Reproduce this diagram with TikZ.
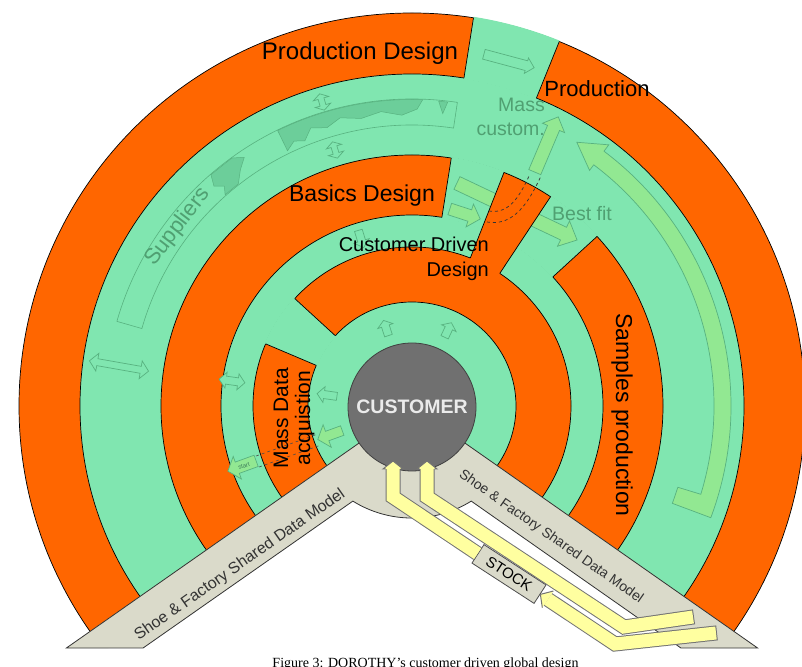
\documentclass[tikz,border=0pt]{standalone}
\usepackage{fontspec}
\setmainfont{Liberation Serif}
\setsansfont{Liberation Sans}
\usetikzlibrary{calc}
\definecolor{ring}{RGB}{255,102,0}
\definecolor{mint}{RGB}{128,230,176}
\definecolor{mintdark}{RGB}{88,178,128}
\definecolor{mintland}{RGB}{108,206,154}
\definecolor{leaf}{RGB}{146,232,146}
\definecolor{band}{RGB}{218,218,202}
\definecolor{lemon}{RGB}{255,255,160}
\definecolor{greentext}{RGB}{80,160,114}
\colorlet{custgrey}{black!56}
\tikzstyle{edge}=[black,line width=.7]
\tikzstyle{hollow}=[draw=mintdark,fill=mint,line width=.7]
\tikzstyle{leafy}=[draw=mintdark,fill=leaf,line width=.7]
\tikzstyle{lab}=[inner sep=0,font=\sffamily]
\tikzstyle{yellowline}=[line width=13,lemon]
\tikzstyle{yellowedge}=[line width=15,black!55]
\def\sector#1#2#3#4#5{% style, from, to, inner, outer
  \fill[#1] ($(O)+(#2:#5)$) arc (#2:#3:#5) -- ($(O)+(#3:#4)$) arc (#3:#2:#4) -- cycle;
}
\def\onearrow#1#2#3#4#5#6#7{% style, centre, angle, length, shaft, head, head length
  \draw[#1,shift={(#2)},rotate=#3]
    ({-#4/2},{-#5}) -- ({#4/2-#7},{-#5}) -- ({#4/2-#7},{-#6}) -- ({#4/2},0) --
    ({#4/2-#7},{#6}) -- ({#4/2-#7},{#5}) -- ({-#4/2},{#5}) -- cycle;
}
\def\twoarrow#1#2#3#4#5#6#7{%
  \draw[#1,shift={(#2)},rotate=#3]
    ({-#4/2},0) -- ({-#4/2+#7},{-#6}) -- ({-#4/2+#7},{-#5}) -- ({#4/2-#7},{-#5}) --
    ({#4/2-#7},{-#6}) -- ({#4/2},0) -- ({#4/2-#7},{#6}) -- ({#4/2-#7},{#5}) --
    ({-#4/2+#7},{#5}) -- ({-#4/2+#7},{#6}) -- cycle;
}
\begin{document}
\begin{tikzpicture}[x=1pt,y=1pt]
  \useasboundingbox (0,0) rectangle (802,666);
  \coordinate (O) at (412,260);

  \begin{scope}
    \clip (O) -- ($(O)+(215:470)$) -- (-20,700) -- (830,700) -- ($(O)+(-35:470)$) -- cycle;
    % RINGS
    \fill[ring] (O) circle (393);
    \fill[mint] (O) circle (332);
    \fill[ring] (O) circle (251);
    \fill[mint] (O) circle (191);
    \fill[ring] (O) circle (159);
    \fill[mint] (O) circle (104);
    \foreach \r in {393,332,251,191,159,104}
      \draw[edge] (O) circle (\r);
    % GAPS
    \sector{mint}{68}{81}{331}{394}
    \sector{mint}{42.5}{81}{190}{252}
    \sector{mint}{137.5}{157}{103}{160}
    \foreach \a/\ri/\ro in {68/332/393,81/332/393,42.5/191/251,81/191/251,137.5/104/159,157/104/159}
      \draw[edge] ($(O)+(\a:\ri)$) -- ($(O)+(\a:\ro)$);

    % SUPPLIERS
    \draw[mintdark,fill=mintland,line width=.5] ($(O)+(88:306.5)$) arc (88:116:306.5)
      -- ($(O)+(116:284)$) -- ($(O)+(114:290)$) -- ($(O)+(112:286)$) -- ($(O)+(110:296)$)
      -- ($(O)+(107:291)$) -- ($(O)+(104:297)$) -- ($(O)+(100:292)$) -- ($(O)+(96:296)$)
      -- ($(O)+(92:291)$) -- ($(O)+(89:297)$) -- cycle;
    \draw[mintdark,fill=mintland,line width=.5] ($(O)+(124:300)$) -- ($(O)+(126:306.5)$)
      -- ($(O)+(131:306.5)$) -- ($(O)+(132:296)$) -- ($(O)+(130.5:289)$) -- ($(O)+(131.5:282)$)
      -- ($(O)+(128:282)$) -- ($(O)+(126:292)$) -- cycle;
    \draw[mintdark,fill=mintland,line width=.5] ($(O)+(85:306)$) -- ($(O)+(84:294)$) -- ($(O)+(83.3:306)$) -- cycle;
    \draw[mintdark,line width=.6] ($(O)+(81.5:307)$) arc (81.5:164:307) -- ($(O)+(164:281)$) arc (164:81.5:281) -- cycle;

    % HOLLOW ARROWS
    \twoarrow{hollow}{322,564}{106}{17}{3}{8}{5}
    \twoarrow{hollow}{335,516}{107}{17}{3}{8}{5}
    \onearrow{hollow}{361,427}{287}{18}{4}{8}{7}
    \onearrow{hollow}{386,338}{108}{16}{4}{8}{6}
    \onearrow{hollow}{448,336}{65}{16}{4}{8}{6}
    \twoarrow{hollow}{119,300}{-10}{60}{3.5}{9}{8}
    \twoarrow{hollow}{232,285}{-8}{26}{4}{8}{7}
    \onearrow{hollow}{327,271}{172}{20}{4}{8}{7}
    \onearrow{hollow}{509,605}{-15}{52}{5}{8}{8}

    % FLOWS
    \onearrow{leafy}{330,231}{200}{26}{5}{12}{10}
    \onearrow{leafy}{242,200}{200}{30}{6}{12}{10}
    \draw[dashed,black!70,line width=.6] (256,210) -- (318,232) (259,199) -- (321,221);
    \onearrow{leafy}{517,454.5}{-25.4}{133}{7}{14}{15}
    \onearrow{leafy}{465,452}{-18}{32}{6}{12}{11}
    \draw[leafy] ($(O)+(-20.5:278)$) -- ($(O)+(-20.5:319)$) arc (-20.5:53:319)
      -- ($(O)+(53:327)$) -- ($(O)+(58:311)$) -- ($(O)+(53:295)$) -- ($(O)+(53:302)$)
      arc (53:-17:302) -- ($(O)+(-17:278)$) -- cycle;

    % ARM
    \sector{ring}{56.5}{68.5}{155}{251}
    \draw[edge] ($(O)+(56.5:159)$) -- ($(O)+(56.5:251)$) arc (56.5:68.5:251) -- ($(O)+(68.5:159)$);
    \draw[dashed,black!80,line width=.7] (489,455) to[out=-10,in=-115] (530,492);
    \draw[dashed,black!80,line width=.7] (487,444) to[out=-10,in=-115] (541,490);
    \onearrow{leafy}{546.5,521.5}{67}{60}{6.5}{12}{12}
  \end{scope}

  % SHARED DATA MODEL
  \draw[black!80,fill=band,line width=.8] (O) -- ($(O)+(215:422)$) -- ($(O)+(305:44)+(215:359)$)
    -- ($(O)+(305:44)+(215:103)$) arc (238.1:301.9:112) -- ($(O)+(235:44)+(-35:359)$)
    -- ($(O)+(-35:422)$) -- cycle;

  % CUSTOMER
  \node[circle,fill=custgrey,draw=black!75,line width=.8,minimum size=128,inner sep=0,
    text=black!8,font=\sffamily\bfseries\fontsize{19.5}{19.5}\selectfont] (cust) at (412,259) {CUSTOMER};

  % LABELS
  \node[lab,anchor=base,font=\sffamily\fontsize{24}{24}\selectfont] (pd) at (360,606) {Production Design};
  \node[lab,anchor=base,font=\sffamily\fontsize{22}{22}\selectfont] (pr) at (597,569) {Production};
  \node[lab,anchor=base,font=\sffamily\fontsize{23}{23}\selectfont] (bd) at (362,464) {Basics Design};
  \node[lab,anchor=base east,align=right,font=\sffamily\fontsize{20}{25}\selectfont] (cd) at (489,389) {Customer Driven\\Design};
  \node[lab,rotate=90,align=center,font=\sffamily\fontsize{21}{22}\selectfont] (md) at (294,248) {Mass Data\\acquistion};
  \node[lab,rotate=-90,font=\sffamily\fontsize{23}{23}\selectfont] (sp) at (622,251) {Samples production};
  \node[lab,rotate=52.5,text=greentext,font=\sffamily\fontsize{22}{22}\selectfont] (sup) at (178,439) {Suppliers};
  \node[lab,anchor=base east,align=right,text=greentext,font=\sffamily\fontsize{19.5}{24}\selectfont] (mc) at (545,530) {Mass\\custom.};
  \node[lab,anchor=base,text=greentext,font=\sffamily\fontsize{19.5}{19.5}\selectfont] (bf) at (582,445) {Best fit};
  \node[lab,rotate=20,text=mintdark!70!black,font=\sffamily\fontsize{6}{6}\selectfont] (st) at (244,200) {start};
  \node[lab,rotate=35,text=black!80,font=\sffamily\fontsize{16}{16}\selectfont] (sfl) at (240,101) {Shoe \& Factory Shared Data Model};
  \node[lab,rotate=-35,text=black!80,font=\sffamily\fontsize{14}{14}\selectfont] (sfr) at (551,129) {Shoe \& Factory Shared Data Model};

  % STOCK
  \node[draw=black!70,fill=band,line width=.8,rotate=-33,minimum width=74,minimum height=22,inner sep=0,
    font=\sffamily\fontsize{15}{15}\selectfont] (stock) at (509,92) {STOCK};
  \coordinate (Y1a) at (393,197);
  \coordinate (Y1b) at (393,169);
  \coordinate (Y1c) at (615,22);
  \coordinate (Y1d) at (716,33);
  \coordinate (Y2a) at (427,197);
  \coordinate (Y2b) at (427,169);
  \coordinate (Y2c) at (624,39);
  \coordinate (Y2d) at (693,49);
  \coordinate (Y1h) at ($(stock.east)!9pt!(Y1c)$);
  \draw[yellowedge,shorten >=-1] (Y2a) -- (Y2b) -- (Y2c) -- (Y2d);
  \draw[yellowline] (Y2a) -- (Y2b) -- (Y2c) -- (Y2d);
  \draw[yellowedge] (stock.west) -- (Y1b) -- (Y1a);
  \draw[yellowline] (stock.west) -- (Y1b) -- (Y1a);
  \draw[yellowedge,shorten >=-1] (Y1h) -- (Y1c) -- (Y1d);
  \draw[yellowline] (Y1h) -- (Y1c) -- (Y1d);
  \foreach \x in {393,427}{
    \fill[lemon] (\x-10,197) -- (\x,205) -- (\x+10,197) -- cycle;
    \draw[black!55,line width=1] (\x-7.5,197) -- (\x-10,197) -- (\x,205) -- (\x+10,197) -- (\x+7.5,197);
  }
  \fill[lemon] (stock.east) -- ($(Y1h)!10pt!90:(stock.east)$) -- ($(Y1h)!10pt!-90:(stock.east)$) -- cycle;
  \draw[black!55,line width=1] ($(Y1h)!10pt!90:(stock.east)$) -- (stock.east) -- ($(Y1h)!10pt!-90:(stock.east)$);

  % CAPTION
  \node[anchor=base,inner sep=0,font=\fontsize{14}{14}\selectfont] (cap) at (425.5,-1) {Figure 3: DOROTHY's customer driven global design};
\end{tikzpicture}
\end{document}
